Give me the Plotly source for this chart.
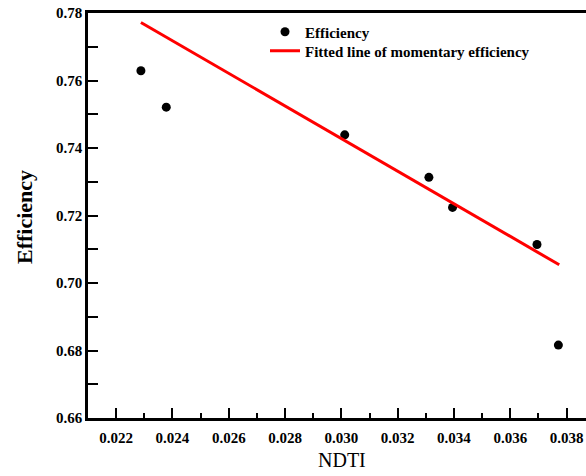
import plotly.graph_objects as go

ndti = [0.02288, 0.02378, 0.03012, 0.03311, 0.03395, 0.03695, 0.03771]
efficiency = [0.7629, 0.7521, 0.7439, 0.7313, 0.7224, 0.7114, 0.6816]

fit_x = [0.02288, 0.03774]
fit_y = [0.7772, 0.7054]

W, H = 586, 476
L, R, T, B = 88, 0, 13, 58
pw, ph = W - L - R, H - T - B

def px(xp):
    return (xp - L) / pw

def py(yp):
    return (H - B - yp) / ph

font = "Liberation Serif"

fig = go.Figure()
fig.add_trace(go.Scatter(x=ndti, y=efficiency, mode="markers", name="Efficiency",
                         marker=dict(color="black", size=9), legend="legend"))
fig.add_trace(go.Scatter(x=fit_x, y=fit_y, mode="lines", name="Fitted line of momentary efficiency",
                         line=dict(color="#ff0000", width=3), legend="legend2"))

tfont = dict(family=font, size=15, color="black", weight="bold")
lfont = dict(family=font, size=15, color="black", weight="bold")

fig.update_layout(
    width=W, height=H,
    margin=dict(l=L, r=R, t=T, b=B),
    paper_bgcolor="white", plot_bgcolor="white",
    font=dict(family=font, color="black"),
    showlegend=True,
    legend=dict(x=px(265), y=py(32), xanchor="left", yanchor="middle",
                bgcolor="rgba(0,0,0,0)", font=lfont, itemwidth=30),
    legend2=dict(x=px(265), y=py(51), xanchor="left", yanchor="middle",
                 bgcolor="rgba(0,0,0,0)", font=lfont, itemwidth=30),
    xaxis=dict(range=[0.021, 0.038691], showline=True, linecolor="black", linewidth=2.5,
               mirror=True, ticks="inside", ticklen=10, tickwidth=1.5, tickcolor="black",
               tickvals=[0.022, 0.024, 0.026, 0.028, 0.030, 0.032, 0.034, 0.036, 0.038],
               tickformat=".3f", showgrid=False, zeroline=False,
               tickfont=tfont, ticklabelstandoff=4,
               minor=dict(tickvals=[0.023, 0.025, 0.027, 0.029, 0.031, 0.033, 0.035, 0.037],
                          ticks="inside", ticklen=5, tickwidth=1.5, tickcolor="black", showgrid=False)),
    yaxis=dict(range=[0.66, 0.78], showline=True, linecolor="black", linewidth=2.5,
               mirror=False, ticks="inside", ticklen=10, tickwidth=1.5, tickcolor="black",
               tickvals=[0.66, 0.68, 0.70, 0.72, 0.74, 0.76, 0.78],
               tickformat=".2f", showgrid=False, zeroline=False,
               tickfont=tfont,
               minor=dict(tickvals=[0.67, 0.69, 0.71, 0.73, 0.75, 0.77],
                          ticks="inside", ticklen=10, tickwidth=1.5, tickcolor="black", showgrid=False)),
)

fig.add_annotation(text="<b>Efficiency</b>", xref="paper", yref="paper",
                   x=px(24), y=py(217), xanchor="center", yanchor="middle",
                   textangle=-90, showarrow=False,
                   font=dict(family=font, size=22, color="black"))
fig.add_annotation(text="NDTI", xref="paper", yref="paper",
                   x=px(342), y=py(460), xanchor="center", yanchor="middle",
                   showarrow=False,
                   font=dict(family=font, size=20, color="black"))

fig.write_html("out.html")
